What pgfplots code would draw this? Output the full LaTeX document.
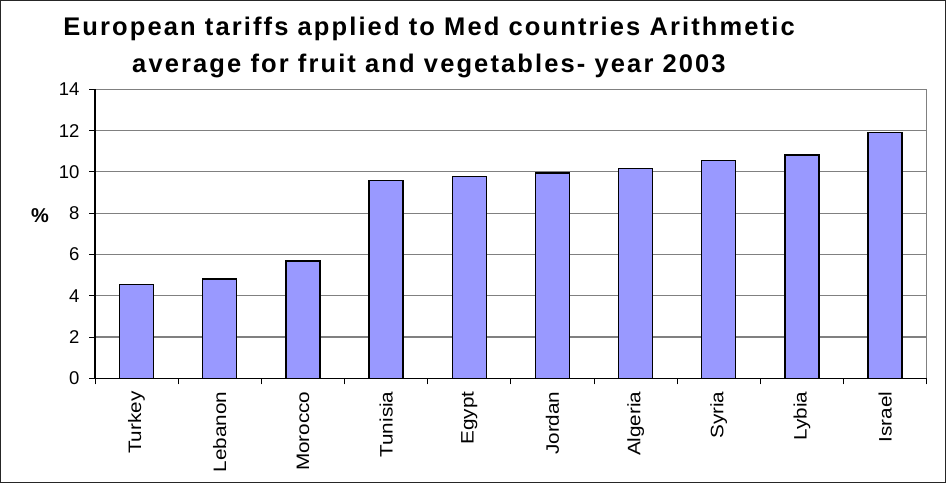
\documentclass[border=0pt]{standalone}
\usepackage{pgfplots}
\pgfplotsset{compat=1.18}
\usepackage{fontspec}
\setmainfont{Liberation Sans}
\newfontfamily\labelfont[FakeStretch=1.15]{Liberation Sans}
\newfontfamily\titlefont[LetterSpace=8.3]{Liberation Sans}
\definecolor{barblue}{HTML}{9999FF}
\definecolor{gridgray}{HTML}{808080}
\begin{document}
\begin{tikzpicture}[x=1pt,y=1pt]
\useasboundingbox (0,0) rectangle (946,483);
\draw[black!85, line width=1.2pt] (0.6,0.6) rectangle (945.4,482.4);
\begin{axis}[
  at={(95pt,104.7pt)}, anchor=south west,
  scale only axis, width=831.7pt, height=289pt,
  xmin=-0.5, xmax=9.5, ymin=0, ymax=14,
  ytick={0,2,...,14},
  ymajorgrids, grid style={gridgray, line width=1.1pt},
  axis line style={gridgray, line width=1.1pt},
  xtick={-0.5,0.5,...,9.5},
  xticklabels={},
  extra x ticks={0,1,...,9},
  extra x tick labels={Turkey,Lebanon,Morocco,Tunisia,Egypt,Jordan,Algeria,Syria,Lybia,Israel},
  extra x tick style={major tick length=0pt},
  xtick pos=bottom, ytick pos=left,
  tick align=outside, major tick length=6pt,
  tick style={black, line width=1pt},
  x tick label style={rotate=90, anchor=east, inner xsep=13pt, font=\labelfont\fontsize{18}{20}\selectfont},
  y tick label style={font=\fontsize{18.5}{20}\selectfont, xshift=-6pt},
  /pgf/number format/assume math mode=true,
  ybar, bar width=34pt,
  clip=false,
]
\addplot[fill=barblue, draw=black, line width=1.3pt] coordinates {(0,4.53) (1,4.81) (2,5.68) (3,9.57) (4,9.77) (5,9.95) (6,10.16) (7,10.54) (8,10.82) (9,11.90)};
\draw[black, line width=1.3pt] (rel axis cs:0,1) -- (rel axis cs:0,0) -- (rel axis cs:1,0);
\end{axis}
\node[font=\titlefont\bfseries\fontsize{25.5}{37}\selectfont, align=center] at (429,436) {European tariffs applied to Med countries Arithmetic\\average for fruit and vegetables- year 2003};
\node[font=\bfseries\fontsize{20}{22}\selectfont] at (40,267) {\%};
\end{tikzpicture}
\end{document}
